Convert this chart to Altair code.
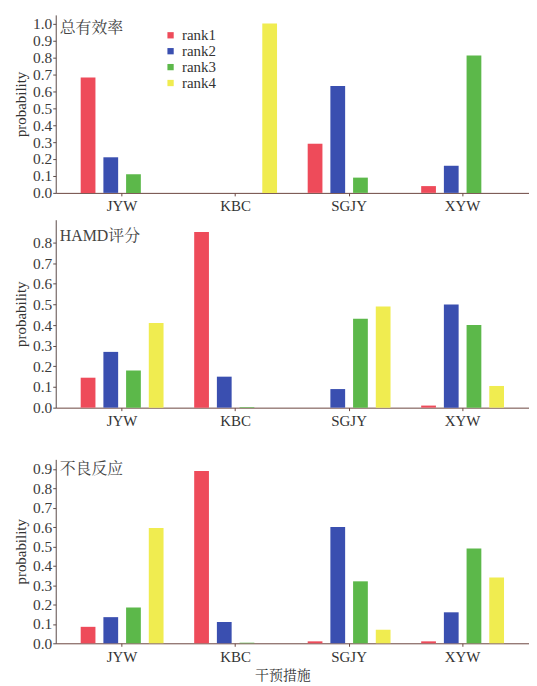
import altair as alt
import pandas as pd

drugs = ["JYW", "KBC", "SGJY", "XYW"]
ranks = ["rank1", "rank2", "rank3", "rank4"]
colors = ["#EE4B5A", "#3A4FB0", "#5CB84A", "#F0EC50"]

# values per rank, in drug order JYW, KBC, SGJY, XYW
eff_rank1 = [0.68, 0.0, 0.29, 0.04]
eff_rank2 = [0.21, 0.0, 0.63, 0.16]
eff_rank3 = [0.11, 0.0, 0.09, 0.81]
eff_rank4 = [0.0, 1.0, 0.0, 0.0]

hamd_rank1 = [0.145, 0.85, 0.0, 0.01]
hamd_rank2 = [0.27, 0.15, 0.09, 0.50]
hamd_rank3 = [0.18, 0.003, 0.43, 0.40]
hamd_rank4 = [0.41, 0.0, 0.49, 0.105]

adv_rank1 = [0.085, 0.89, 0.01, 0.01]
adv_rank2 = [0.135, 0.11, 0.60, 0.16]
adv_rank3 = [0.185, 0.003, 0.32, 0.49]
adv_rank4 = [0.595, 0.0, 0.07, 0.34]

panel_titles = ["总有效率", "HAMD评分", "不良反应"]
y_ticks = [[round(i * 0.1, 1) for i in range(11)],
           [round(i * 0.1, 1) for i in range(9)],
           [round(i * 0.1, 1) for i in range(10)]]
y_max = [1.05, 0.91, 0.95]
heights = [179, 189, 185]

SERIF = "Liberation Serif"
MIXED = "Liberation Serif, Noto Serif CJK SC, Noto Sans CJK SC"
AXC = "#5a4a48"


def table(r1, r2, r3, r4):
    rows = []
    for rk, vals in zip(ranks, [r1, r2, r3, r4]):
        for d, v in zip(drugs, vals):
            rows.append({"drug": d, "rank": rk, "p": v})
    return pd.DataFrame(rows)


datasets = [table(eff_rank1, eff_rank2, eff_rank3, eff_rank4),
            table(hamd_rank1, hamd_rank2, hamd_rank3, hamd_rank4),
            table(adv_rank1, adv_rank2, adv_rank3, adv_rank4)]

title_y = [13, 16, 10]
panels = []
for i in range(3):
    if i == 0:
        legend = alt.Legend(title=None, orient="none", legendX=108, legendY=13,
                            symbolType="square", symbolSize=40, labelFont=SERIF,
                            labelFontSize=15, labelColor="#333", rowPadding=0,
                            padding=0)
    else:
        legend = None
    xcommon = dict(labelAngle=0, labelFont=SERIF, labelFontSize=15, labelColor="#333",
                   labelPadding=3, domainColor="#6b4640", tickColor="#6b4640",
                   tickSize=3, grid=False)
    if i == 2:
        xaxis = alt.Axis(title="干预措施", titleFont=MIXED, titleFontSize=14,
                         titleFontWeight="normal", titleColor="#333", titlePadding=4,
                         titleX=228, **xcommon)
    elif i == 1:
        xaxis = alt.Axis(title=" ", titleFontSize=14, titlePadding=11, **xcommon)
    else:
        xaxis = alt.Axis(title=None, **xcommon)
    bars = alt.Chart(datasets[i]).mark_bar().encode(
        x=alt.X("drug:N", sort=drugs, axis=xaxis,
                scale=alt.Scale(paddingInner=0.27, paddingOuter=0.22)),
        xOffset=alt.XOffset("rank:N", sort=ranks,
                            scale=alt.Scale(paddingInner=0.35)),
        y=alt.Y("p:Q", scale=alt.Scale(domain=[0, y_max[i]], nice=False),
                axis=alt.Axis(title="probability", values=y_ticks[i], format=".1f",
                              grid=False, titleFont=SERIF, titleFontSize=15,
                              titleFontWeight="normal", titleColor="#333",
                              titlePadding=4, labelFont=SERIF, labelFontSize=15.5,
                              labelColor="#3a3a3a", labelPadding=1, domainColor=AXC,
                              tickColor=AXC, tickSize=3)),
        color=alt.Color("rank:N", sort=ranks,
                        scale=alt.Scale(domain=ranks, range=colors), legend=legend),
    )
    label = alt.Chart(pd.DataFrame({"t": [panel_titles[i]]})).mark_text(
        align="left", baseline="middle", font=MIXED, fontSize=16, color="#444"
    ).encode(text="t:N", x=alt.value(4), y=alt.value(title_y[i]))
    panels.append(alt.layer(bars, label).properties(width=476, height=heights[i]))

chart = alt.vconcat(*panels, spacing=6).resolve_scale(color="independent").resolve_legend(
    color="independent"
).configure_view(strokeWidth=0, stroke="transparent").properties(
    background="white", padding={"left": 5, "top": 5, "right": 0, "bottom": 0}
)

chart.save("out.html", embed_options={"renderer": "svg", "actions": False})
